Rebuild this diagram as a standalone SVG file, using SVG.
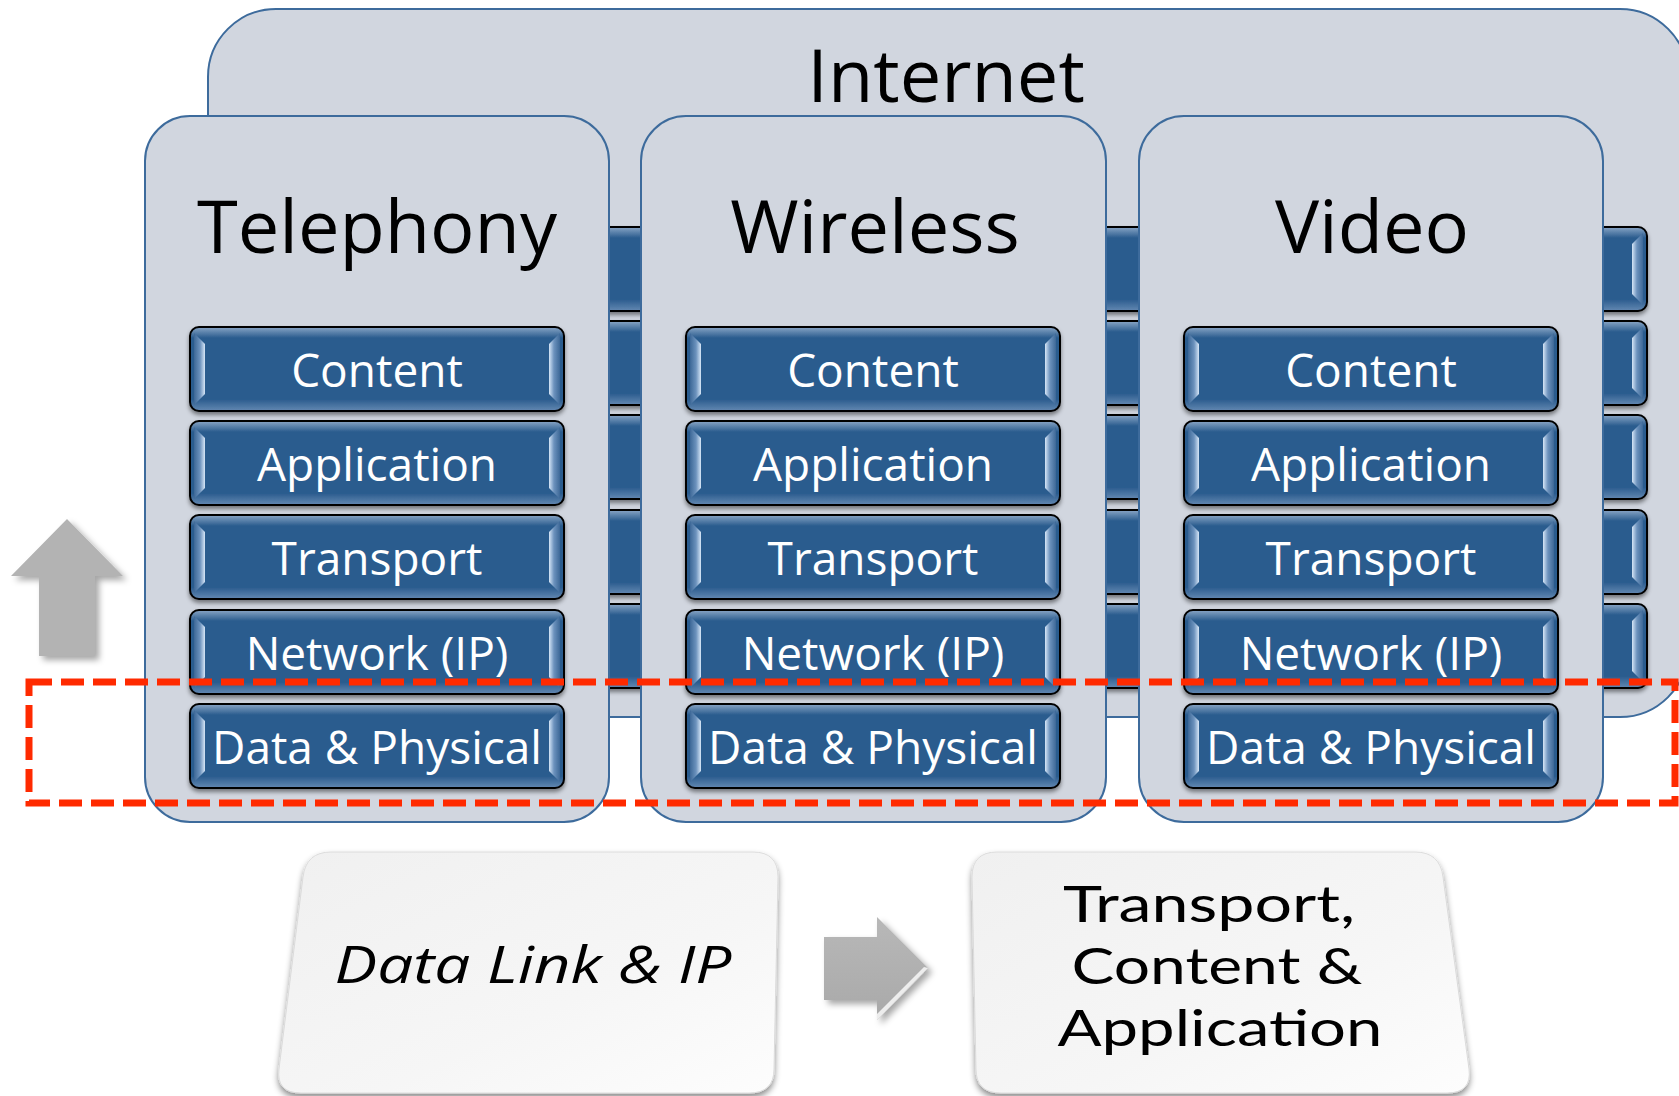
<svg xmlns="http://www.w3.org/2000/svg" xmlns:xlink="http://www.w3.org/1999/xlink" width="1679" height="1096" viewBox="0 0 1679 1096">
<style>
.panel{fill:#d1d6df;stroke:#3d6b9c;stroke-width:2}
.title{font-family:"Open Sans","Noto Sans",sans-serif;font-size:74px;fill:#000;text-anchor:middle}
.lbl{font-family:"Open Sans","Noto Sans",sans-serif;font-size:46px;fill:#fff;text-anchor:middle}
.btxt{font-family:Lato,"Open Sans",sans-serif;font-size:50px;fill:#000;text-anchor:middle}
.garrow{fill:#b3b3b3}
</style>
<defs>
<linearGradient id="barGrad" x1="0" y1="0" x2="0" y2="1">
<stop offset="0" stop-color="#8aa6c6"/>
<stop offset="0.13" stop-color="#2a5c8e"/>
<stop offset="0.86" stop-color="#2a5c8e"/>
<stop offset="1" stop-color="#6488b2"/>
</linearGradient>
<linearGradient id="bevL" x1="0" y1="0" x2="1" y2="0">
<stop offset="0" stop-color="#3d6897"/>
<stop offset="0.55" stop-color="#6c92bd"/>
<stop offset="1" stop-color="#d6e6f7"/>
</linearGradient>
<linearGradient id="bevR" x1="1" y1="0" x2="0" y2="0">
<stop offset="0" stop-color="#3d6897"/>
<stop offset="0.55" stop-color="#6c92bd"/>
<stop offset="1" stop-color="#d6e6f7"/>
</linearGradient>
<linearGradient id="boxGrad" x1="0" y1="0" x2="1" y2="1">
<stop offset="0" stop-color="#f0f0f0"/>
<stop offset="0.6" stop-color="#f6f6f6"/>
<stop offset="1" stop-color="#fdfdfd"/>
</linearGradient>
<linearGradient id="arrGrad" x1="0" y1="0" x2="0" y2="1">
<stop offset="0" stop-color="#b8b8b8"/>
<stop offset="1" stop-color="#a9a9a9"/>
</linearGradient>
<filter id="barShadow" x="-5%" y="-20%" width="110%" height="150%">
<feDropShadow dx="0" dy="3" stdDeviation="2" flood-color="#000" flood-opacity="0.45"/>
</filter>
<filter id="arrShadow" x="-30%" y="-30%" width="160%" height="160%">
<feDropShadow dx="4" dy="4" stdDeviation="3" flood-color="#000" flood-opacity="0.35"/>
</filter>
<filter id="boxShadow" x="-10%" y="-10%" width="120%" height="130%">
<feDropShadow dx="0" dy="4" stdDeviation="3" flood-color="#000" flood-opacity="0.45"/>
</filter>
<g id="bar">
<rect x="0" y="0" width="374" height="84" rx="9" fill="url(#barGrad)" stroke="#000" stroke-width="2"/>
<path d="M4,6 L15,17 L15,67 L4,78 Z" fill="url(#bevL)"/>
<path d="M370,6 L359,17 L359,67 L370,78 Z" fill="url(#bevR)"/>
</g>
<g id="bgbar">
<rect x="0" y="0" width="1087" height="84" rx="9" fill="url(#barGrad)" stroke="#000" stroke-width="2"/>
<path d="M1083,6 L1072,17 L1072,67 L1083,78 Z" fill="url(#bevR)"/>
</g>
</defs>

<g id="internet">
<rect class="panel" x="208" y="9" width="1480" height="708" rx="68"/>
<text class="title" x="946" y="102" font-size="73">Internet</text>
</g>

<g id="internet-layers" filter="url(#barShadow)">
<use xlink:href="#bgbar" x="560" y="227"/>
<use xlink:href="#bgbar" x="560" y="321"/>
<use xlink:href="#bgbar" x="560" y="415"/>
<use xlink:href="#bgbar" x="560" y="510"/>
<use xlink:href="#bgbar" x="560" y="604"/>
</g>

<g id="telephony">
<rect class="panel" x="145" y="116" width="464" height="706" rx="45"/>
<text class="title" x="377" y="253">Telephony</text>
<g filter="url(#barShadow)">
<use xlink:href="#bar" x="190" y="327"/>
<use xlink:href="#bar" x="190" y="421"/>
<use xlink:href="#bar" x="190" y="515"/>
<use xlink:href="#bar" x="190" y="610"/>
<use xlink:href="#bar" x="190" y="704"/>
</g>
<text class="lbl" x="377" y="387">Content</text>
<text class="lbl" x="377" y="481">Application</text>
<text class="lbl" x="377" y="575">Transport</text>
<text class="lbl" x="377" y="670">Network (IP)</text>
<text class="lbl" x="377" y="764">Data &amp; Physical</text>
</g>

<g id="wireless">
<rect class="panel" x="641" y="116" width="465" height="706" rx="45"/>
<text class="title" x="875" y="253">Wireless</text>
<g filter="url(#barShadow)">
<use xlink:href="#bar" x="686" y="327"/>
<use xlink:href="#bar" x="686" y="421"/>
<use xlink:href="#bar" x="686" y="515"/>
<use xlink:href="#bar" x="686" y="610"/>
<use xlink:href="#bar" x="686" y="704"/>
</g>
<text class="lbl" x="873" y="387">Content</text>
<text class="lbl" x="873" y="481">Application</text>
<text class="lbl" x="873" y="575">Transport</text>
<text class="lbl" x="873" y="670">Network (IP)</text>
<text class="lbl" x="873" y="764">Data &amp; Physical</text>
</g>

<g id="video">
<rect class="panel" x="1139" y="116" width="464" height="706" rx="45"/>
<text class="title" x="1372" y="253">Video</text>
<g filter="url(#barShadow)">
<use xlink:href="#bar" x="1184" y="327"/>
<use xlink:href="#bar" x="1184" y="421"/>
<use xlink:href="#bar" x="1184" y="515"/>
<use xlink:href="#bar" x="1184" y="610"/>
<use xlink:href="#bar" x="1184" y="704"/>
</g>
<text class="lbl" x="1371" y="387">Content</text>
<text class="lbl" x="1371" y="481">Application</text>
<text class="lbl" x="1371" y="575">Transport</text>
<text class="lbl" x="1371" y="670">Network (IP)</text>
<text class="lbl" x="1371" y="764">Data &amp; Physical</text>
</g>

<g id="highlight">
<rect x="29" y="682" width="1646" height="121" fill="none" stroke="#ff2a00" stroke-width="7" stroke-dasharray="23 9"/>
</g>

<g id="up-arrow" filter="url(#arrShadow)">
<path class="garrow" d="M67,519 L123,576 L95,576 L95,656 L39,656 L39,576 L11,576 Z"/>
</g>

<g id="box-datalink">
<path d="M331,852 L753,852 Q778,852 778,877 L774,1069 Q774,1093 749,1093 L301,1093 Q276,1093 279,1069 L303,877 Q306,852 331,852 Z" fill="url(#boxGrad)" stroke="#dcdcdc" stroke-width="1" filter="url(#boxShadow)"/>
<text x="533" y="983" font-family="'Open Sans','Noto Sans',sans-serif" font-style="italic" font-size="52" fill="#000" text-anchor="middle" textLength="397" lengthAdjust="spacingAndGlyphs">Data Link &amp; IP</text>
</g>

<g id="connectors">
<g filter="url(#arrShadow)">
<path d="M824,937 L877,937 L877,917 L928,968 L877,1020 L877,1000 L824,1000 Z" fill="url(#arrGrad)"/>
<path d="M928,968 L877,1020 L877,1014 L924,967 Z" fill="#f4f4f4" opacity="0.9"/>
</g>
</g>

<g id="box-transport">
<path d="M997,852 L1415,852 Q1440,852 1443,877 L1469,1069 Q1472,1093 1447,1093 L1001,1093 Q976,1093 976,1069 L972,877 Q972,852 997,852 Z" fill="url(#boxGrad)" stroke="#dcdcdc" stroke-width="1" filter="url(#boxShadow)"/>
<text class="btxt" x="1209" y="922" textLength="292" lengthAdjust="spacingAndGlyphs">Transport,</text>
<text class="btxt" x="1217" y="984" textLength="291" lengthAdjust="spacingAndGlyphs">Content &amp;</text>
<text class="btxt" x="1220" y="1046" textLength="325" lengthAdjust="spacingAndGlyphs">Application</text>
</g>
</svg>
